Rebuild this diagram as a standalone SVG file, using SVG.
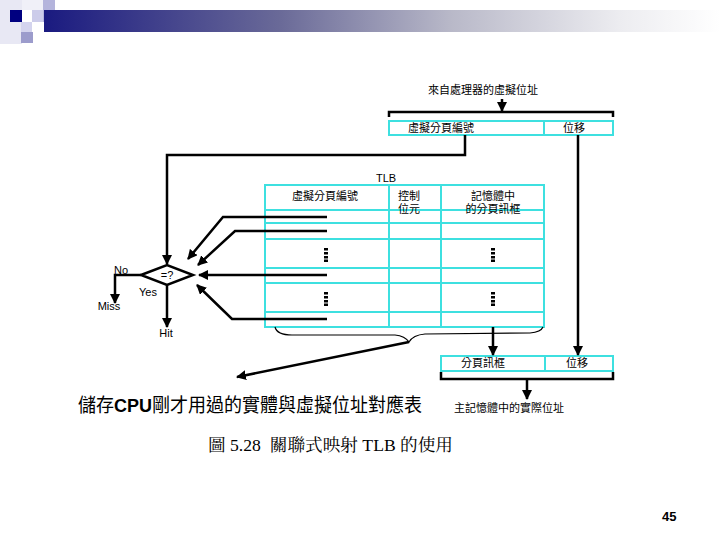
<svg xmlns="http://www.w3.org/2000/svg" width="720" height="540" viewBox="0 0 720 540">
<defs>
<linearGradient id="bar" x1="0" y1="0" x2="1" y2="0">
<stop offset="0" stop-color="#1a1a80"/>
<stop offset="0.35" stop-color="#6a6a98"/>
<stop offset="0.6" stop-color="#b8b8c8"/>
<stop offset="0.85" stop-color="#ececf0"/>
<stop offset="1" stop-color="#ffffff"/>
</linearGradient>
<marker id="ah" viewBox="0 0 10 10" refX="9" refY="5" markerWidth="4" markerHeight="4" orient="auto" markerUnits="strokeWidth">
<path d="M0,0 L10,5 L0,10 z" fill="#000"/>
</marker>
</defs>
<style>
.cy{fill:none;stroke:#3ee0e0;stroke-width:2}
.ln{fill:none;stroke:#000;stroke-width:2.5}
.lnt{fill:none;stroke:#000;stroke-width:1.2}
.t{font-family:"Liberation Sans","Noto Sans CJK TC",sans-serif;font-size:11px;fill:#000}
.tc{text-anchor:middle}
</style>
<rect width="720" height="540" fill="#fff"/>
<g id="header">
<rect x="0" y="0" width="22" height="44" fill="#e8e8f4"/>
<rect x="22" y="0" width="21" height="10" fill="#f0f0f8"/>
<rect x="10" y="10" width="12" height="12" fill="#000080"/>
<rect x="32" y="10" width="11" height="12" fill="#ccccea"/>
<rect x="43" y="0" width="12" height="22" fill="#b4b4dc"/>
<rect x="21" y="22" width="11" height="10" fill="#d4d4ee"/>
<rect x="21" y="32" width="12" height="11" fill="#9c9ccc"/>
<rect x="44" y="10" width="676" height="22" fill="url(#bar)"/>
</g>
<g id="top-text"><text class="t tc" x="483" y="94">來自處理器的虛擬位址</text></g>
<g id="address-box">
<rect class="cy" x="389" y="121" width="224" height="14"/>
<line class="cy" x1="544" y1="121" x2="544" y2="135"/>
<text class="t tc" x="441" y="132">虛擬分頁編號</text>
<text class="t tc" x="574" y="132">位移</text>
</g>
<g id="tlb">
<text class="t tc" x="386" y="182">TLB</text>
<rect class="cy" x="265" y="185" width="279" height="142"/>
<g class="cy">
<line x1="389" y1="185" x2="389" y2="327"/>
<line x1="441" y1="185" x2="441" y2="327"/>
<line x1="265" y1="210" x2="544" y2="210"/>
<line x1="265" y1="223" x2="544" y2="223"/>
<line x1="265" y1="239" x2="544" y2="239"/>
<line x1="265" y1="268" x2="544" y2="268"/>
<line x1="265" y1="283" x2="544" y2="283"/>
<line x1="265" y1="312" x2="544" y2="312"/>
</g>
<text class="t tc" x="325" y="200">虛擬分頁編號</text>
<text class="t tc" x="409" y="200">控制</text>
<text class="t tc" x="409" y="213">位元</text>
<text class="t tc" x="493" y="200">記憶體中</text>
<text class="t tc" x="493" y="213">的分頁訊框</text>
<g fill="#000">
<rect x="324" y="248" width="4" height="2.5"/><rect x="324" y="252" width="4" height="2.5"/><rect x="324" y="256" width="4" height="2.5"/><rect x="324" y="259.5" width="4" height="2.5"/>
<rect x="324" y="292" width="4" height="2.5"/><rect x="324" y="296" width="4" height="2.5"/><rect x="324" y="300" width="4" height="2.5"/><rect x="324" y="303.5" width="4" height="2.5"/>
<rect x="491" y="248" width="4" height="2.5"/><rect x="491" y="252" width="4" height="2.5"/><rect x="491" y="256" width="4" height="2.5"/><rect x="491" y="259.5" width="4" height="2.5"/>
<rect x="491" y="292" width="4" height="2.5"/><rect x="491" y="296" width="4" height="2.5"/><rect x="491" y="300" width="4" height="2.5"/><rect x="491" y="303.5" width="4" height="2.5"/>
</g>
</g>
<g id="compare">
<polygon points="141,275 167,265 193,275 167,285" fill="#fff" stroke="#000" stroke-width="2.5"/>
<text class="t tc" x="167" y="279">=?</text>
</g>
<g id="result-box">
<rect class="cy" x="441" y="356" width="172" height="15"/>
<line class="cy" x1="545" y1="356" x2="545" y2="371"/>
<text class="t tc" x="483" y="367">分頁訊框</text>
<text class="t tc" x="577" y="367">位移</text>
</g>
<g id="labels">
<text class="t" x="114" y="274" font-size="10">No</text>
<text class="t tc" x="109" y="310" font-size="10">Miss</text>
<text class="t tc" x="148" y="296" font-size="10">Yes</text>
<text class="t tc" x="166" y="337" font-size="10">Hit</text>
<text class="t tc" x="509" y="412">主記憶體中的實際位址</text>
<text x="78" y="412" font-family="'Liberation Sans','Noto Sans CJK TC',sans-serif" font-size="19" textLength="344" lengthAdjust="spacingAndGlyphs">儲存<tspan font-weight="bold">CPU</tspan>剛才用過的實體與虛擬位址對應表</text>
<text x="208" y="451" style="white-space:pre" font-family="'Liberation Serif','Noto Serif CJK TC','Noto Sans CJK TC',serif" font-size="17" textLength="245" lengthAdjust="spacingAndGlyphs">圖 5.28  關聯式映射 TLB 的使用</text>
<text x="662" y="521" font-family="'Liberation Sans',sans-serif" font-size="13" font-weight="bold">45</text>
</g>
<g id="connectors">
<path class="ln" d="M389,117 L389,112 L613,112 L613,117"/>
<line class="ln" x1="502" y1="99" x2="502" y2="111" marker-end="url(#ah)"/>
<path class="ln" d="M465,135 L465,155 L167,155 L167,264" marker-end="url(#ah)"/>
<line class="ln" x1="578" y1="135" x2="578" y2="355" marker-end="url(#ah)"/>
<path class="ln" d="M327,217 L223,217 L188,259" marker-end="url(#ah)"/>
<path class="ln" d="M327,231 L235,231 L198,265" marker-end="url(#ah)"/>
<line class="ln" x1="327" y1="275" x2="199" y2="275" marker-end="url(#ah)"/>
<path class="ln" d="M327,319 L232,319 L197,285" marker-end="url(#ah)"/>
<path class="ln" d="M141,275 L115,275 L115,303" marker-end="url(#ah)"/>
<line class="ln" x1="167" y1="285" x2="167" y2="327" marker-end="url(#ah)"/>
<path class="lnt" d="M275,327 Q277,335 292,335 L395,335 Q405,336 409,342 Q413,335 425,334 L530,333 Q541,332 543,327"/>
<line class="ln" x1="409" y1="342" x2="237" y2="377" marker-end="url(#ah)"/>
<line class="ln" x1="493" y1="327" x2="493" y2="355" marker-end="url(#ah)"/>
<path class="ln" d="M441,372 L441,379 L613,379 L613,372"/>
<line class="ln" x1="527" y1="379" x2="527" y2="399" marker-end="url(#ah)"/>
</g>
</svg>
